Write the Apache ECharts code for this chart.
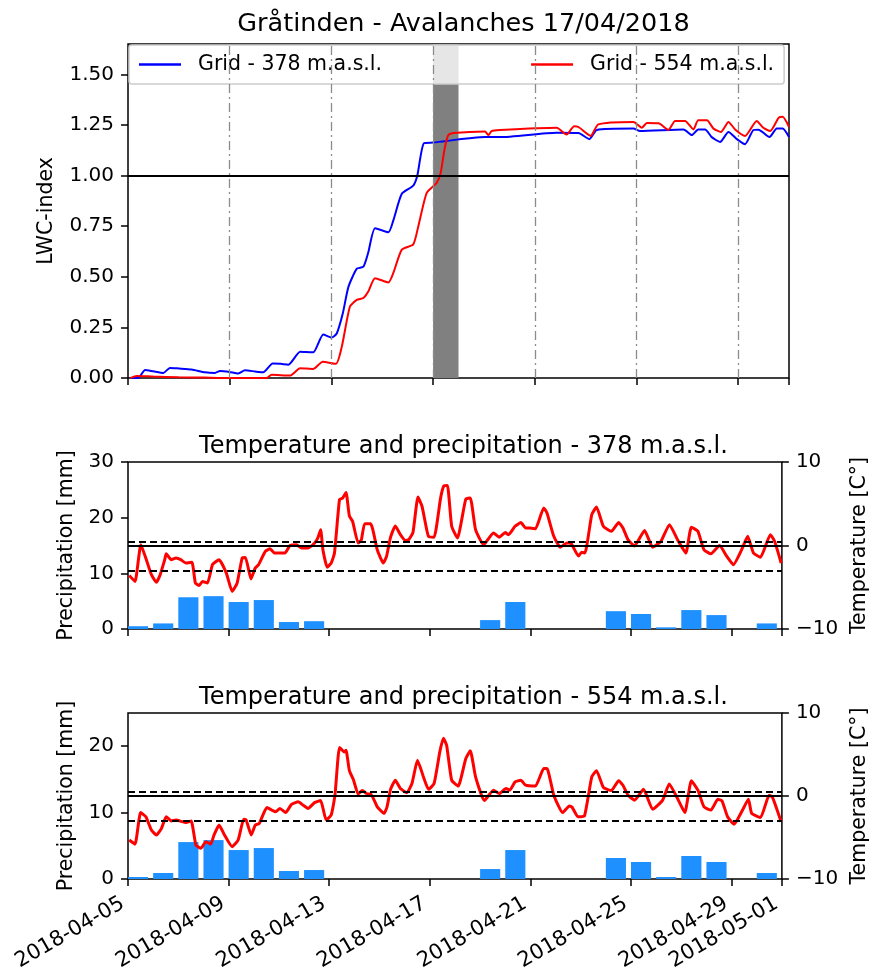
<!DOCTYPE html>
<html>
<head>
<meta charset="utf-8">
<script src="https://cdn.jsdelivr.net/npm/echarts@6/dist/echarts.min.js"></script>
<style>
  html, body { margin: 0; padding: 0; background: #fff; }
  #chart { width: 878px; height: 974px; }
</style>
</head>
<body>
<div id="chart"></div>
<script>
// x values are days after 2018-04-05 00:00
const tickDays = [0, 4, 8, 12, 16, 20, 24, 26];
const tickLabels = ['2018-04-05', '2018-04-09', '2018-04-13', '2018-04-17',
  '2018-04-21', '2018-04-25', '2018-04-29', '2018-05-01'];
const gridDays = [4, 8, 12, 16, 20, 24];
const avalancheDays = [12, 13];
const lwcTicks = [0, 0.25, 0.5, 0.75, 1, 1.25, 1.5];

const lwc378Days = [0.1, 0.4, 0.67, 1.0, 1.39, 1.65, 2.0, 2.5, 3.03, 3.42, 3.62, 4.0, 4.34, 4.6, 5.0,
  5.32, 5.69, 6.0, 6.31, 6.77, 7.0, 7.29, 7.68, 8.01, 8.21, 8.45, 8.67, 9.0, 9.26, 9.45, 9.72,
  10.24, 10.44, 10.77, 11.22, 11.38, 11.64, 12.01, 14.04, 14.63, 16.86, 17.72, 18.15, 18.44,
  19.88, 20.14, 21.85, 22.18, 22.43, 22.7, 22.96, 23.29, 23.62, 23.95, 24.27, 24.6, 24.8,
  25.23, 25.52, 25.75, 26.0];
const lwc378 = [0, 0, 0.04, 0.033, 0.025, 0.05, 0.047, 0.042, 0.028, 0.025, 0.035, 0.03, 0.022, 0.038, 0.032,
  0.028, 0.072, 0.07, 0.066, 0.13, 0.128, 0.127, 0.215, 0.2, 0.22, 0.32, 0.45, 0.54, 0.55, 0.62, 0.74,
  0.72, 0.78, 0.91, 0.95, 1.0, 1.16, 1.163, 1.19, 1.19, 1.212, 1.21, 1.18, 1.225,
  1.232, 1.22, 1.228, 1.2, 1.228, 1.228, 1.19, 1.166, 1.215, 1.18, 1.155, 1.225, 1.227,
  1.19, 1.232, 1.232, 1.19];

const lwc554Days = [0.1, 0.34, 1.0, 2.0, 3.0, 4.0, 5.46, 5.65, 6.37, 6.77, 7.29, 7.66, 8.18, 8.41, 8.73,
  9.0, 9.26, 9.45, 9.72, 10.24, 10.44, 10.77, 11.22, 11.42, 11.75, 12.14, 12.3, 12.45, 12.6, 12.8,
  14.04, 14.18, 14.3, 14.63, 16.86, 17.25, 17.55, 17.72, 18.2, 18.5, 19.88, 20.21, 20.41, 20.87,
  21.26, 21.52, 21.91, 22.24, 22.43, 22.77, 23.03, 23.32, 23.62, 23.88, 24.27, 24.73, 24.99,
  25.26, 25.59, 25.75, 26.0];
const lwc554 = [0, 0.01, 0.007, 0.004, 0.002, 0, 0, 0.016, 0.012, 0.048, 0.045, 0.08, 0.07, 0.155, 0.353,
  0.386, 0.395, 0.427, 0.493, 0.472, 0.52, 0.634, 0.66, 0.75, 0.915, 0.964, 1.014, 1.13, 1.2, 1.21,
  1.218, 1.2, 1.22, 1.225, 1.236, 1.203, 1.244, 1.24, 1.196, 1.253, 1.265, 1.236, 1.26, 1.258,
  1.226, 1.27, 1.27, 1.228, 1.273, 1.273, 1.232, 1.215, 1.265, 1.228, 1.196, 1.27, 1.236,
  1.22, 1.285, 1.29, 1.24];

// daily precipitation, 2018-04-05 .. 2018-04-30
const precipDays = [0, 1, 2, 3, 4, 5, 6, 7, 8, 9, 10, 11, 12, 13, 14, 15, 16, 17, 18, 19, 20, 21, 22, 23, 24, 25];
const precip378 = [0.5, 1.0, 5.7, 5.9, 4.85, 5.2, 1.25, 1.4, 0, 0, 0, 0, 0, 0, 1.6, 4.85, 0, 0, 0, 3.2, 2.7, 0.3, 3.4, 2.5, 0, 1.0];
const precip554 = [0.3, 0.9, 5.56, 5.86, 4.36, 4.66, 1.2, 1.35, 0, 0, 0, 0, 0, 0, 1.5, 4.36, 0, 0, 0, 3.16, 2.56, 0.3, 3.46, 2.56, 0, 0.9];

const temp378Days = [0.05, 0.28, 0.51, 0.73, 0.93, 1.13, 1.28, 1.46, 1.52, 1.72, 1.91, 2.1, 2.3, 2.54, 2.68,
  2.83, 2.96, 3.16, 3.36, 3.62, 3.91, 4.14, 4.34, 4.54, 4.67, 4.89, 5.06, 5.19, 5.46, 5.65, 5.82,
  6.24, 6.44, 6.7, 6.9, 7.16, 7.42, 7.55, 7.66, 7.75, 7.92, 8.08, 8.21, 8.41, 8.54, 8.67, 8.8,
  8.93, 9.15, 9.28, 9.41, 9.65, 9.91, 10.15, 10.28, 10.44, 10.63, 10.83, 11.03, 11.16, 11.33,
  11.53, 11.69, 11.85, 11.95, 12.17, 12.43, 12.56, 12.7, 12.87, 13.1, 13.43, 13.61, 13.82, 14.14,
  14.53, 14.76, 15.0, 15.13, 15.39, 15.62, 15.81, 16.0, 16.2, 16.53, 16.66, 16.93, 17.19, 17.45,
  17.62, 17.91, 18.04, 18.17, 18.44, 18.63, 18.9, 19.22, 19.51, 19.68, 19.88, 20.14, 20.54,
  20.86, 21.19, 21.53, 21.85, 22.18, 22.4, 22.66, 22.9, 23.18, 23.52, 23.81, 24.07, 24.4, 24.64,
  24.87, 25.15, 25.54, 25.71, 25.97];
const temp378 = [-3.6, -4.3, 0.1, -1.7, -3.5, -4.4, -3.5, -1.7, -1.0, -1.7, -1.5, -1.7, -2.1, -2.0, -4.5,
  -4.8, -4.3, -4.5, -2.3, -1.7, -3.3, -5.5, -4.5, -1.5, -1.45, -4.0, -2.7, -2.3, -0.7, -0.4, -0.9,
  -0.9, 0.0, 0.1, -0.3, -0.3, 0.3, 0.9, 1.9, -0.5, -2.6, -2.1, -0.9, 5.5, 5.7, 6.35, 3.55,
  2.9, 0.3, 0.7, 2.6, 2.6, -0.5, -2.1, -1.3, 1.0, 2.35, 1.3, 0.6, 0.7, 1.55,
  5.8, 4.7, 2.3, 1.1, 1.0, 5.7, 7.15, 7.2, 2.3, 0.9, 5.55, 5.7, 1.9, 0.1,
  1.5, 1.0, 1.55, 1.3, 2.3, 2.75, 2.1, 2.1, 2.0, 4.5, 3.9, 1.1, -0.2, 0.3,
  0.25, -1.25, -0.8, -0.9, 3.7, 4.6, 2.3, 1.7, 2.75, 2.1, 0.7, -0.05, 1.8,
  -0.2, 0.5, 2.5, 0.7, -0.9, 2.2, 1.7, -0.5, -1.0, 0.0, -1.3, -2.3, -0.5, 1.1,
  -0.9, -1.4, 1.3, 0.5, -2.1];

const temp554Days = [0.05, 0.28, 0.5, 0.71, 0.93, 1.13, 1.33, 1.52, 1.72, 1.91, 2.31, 2.51, 2.7, 2.9, 3.1,
  3.29, 3.42, 3.62, 3.82, 4.14, 4.38, 4.6, 4.7, 4.9, 5.06, 5.22, 5.52, 5.72, 5.87, 6.04, 6.27,
  6.5, 6.77, 6.96, 7.16, 7.42, 7.66, 7.88, 8.08, 8.23, 8.41, 8.6, 8.67, 8.8, 8.97, 9.15, 9.32,
  9.52, 9.65, 9.91, 10.18, 10.3, 10.44, 10.63, 10.83, 11.09, 11.29, 11.51, 11.77, 11.95, 12.17,
  12.4, 12.54, 12.67, 12.87, 13.13, 13.43, 13.61, 13.82, 14.17, 14.53, 14.76, 15.03, 15.18, 15.39,
  15.62, 15.81, 16.2, 16.53, 16.66, 16.93, 17.28, 17.55, 17.66, 17.89, 18.15, 18.44, 18.63, 18.9,
  19.22, 19.51, 19.68, 19.88, 20.14, 20.5, 20.86, 21.26, 21.52, 21.85, 22.14, 22.4, 22.66, 22.9,
  23.18, 23.45, 23.62, 23.84, 24.1, 24.4, 24.67, 24.8, 25.15, 25.49, 25.62, 25.97];
const temp554 = [-5.3, -5.8, -2.0, -2.5, -4.1, -4.7, -3.9, -2.5, -3.0, -2.9, -3.2, -3.0, -5.9, -6.3, -5.5,
  -5.8, -4.7, -3.5, -4.6, -6.1, -5.3, -2.8, -2.9, -4.7, -3.5, -3.3, -1.4, -1.7, -1.9, -1.5, -2.0,
  -1.0, -0.7, -1.1, -1.5, -0.8, -0.55, -2.9, -2.3, 0.1, 5.85, 5.3, 5.5, 3.1, 1.9, 0.25, 0.65,
  0.25, 0.25, -1.3, -2.1, -1.3, 0.8, 1.9, 0.9, 0.4, 1.5, 4.3, 2.1, 0.8, 1.5,
  5.35, 6.95, 6.1, 1.9, 1.2, 4.5, 5.45, 2.3, -0.55, 0.7, 0.3, 0.9, 0.7, 1.7,
  1.9, 1.3, 1.2, 3.3, 3.3, 0.1, -2.0, -1.2, -1.35, -2.5, -2.4, 2.3, 3.05, 1.05,
  0.65, 1.85, 1.3, 0.1, -0.5, 0.8, -1.6, -0.5, 1.45, -0.3, -2.0, 1.85, 0.7, -1.3,
  -1.7, -0.4, -0.6, -2.5, -3.4, -1.9, -0.4, -2.1, -2.6, 0.1, -0.1, -3.1];

const tempDashed = [0.5, -3];

const FONT = 'DejaVu Sans';
const pts = (xs, ys) => xs.map((x, i) => [x, ys[i]]);
const bars = (xs, ys) => xs.map((x, i) => [x + 0.4, ys[i]]);
const minus = (v) => (v < 0 ? '\u2212' + Math.abs(v) : String(v));

const grids = [
  { left: 128, width: 661, top: 44, height: 334 },
  { left: 128, width: 661, top: 462, height: 167 },
  { left: 128, width: 661, top: 713, height: 166 },
].map((g) => ({ ...g, show: true, borderColor: '#000', borderWidth: 1.5, backgroundColor: 'transparent' }));

const tick = { show: true, length: 7, inside: false, lineStyle: { color: '#000', width: 1.5 } };
const label = { color: '#000', fontFamily: FONT, fontSize: 20 };

const xAxes = [0, 1, 2].map((i) => ({
  type: 'value', gridIndex: i, min: 0, max: 26,
  axisLine: { show: false }, splitLine: { show: false },
  axisTick: { ...tick, customValues: tickDays },
  axisLabel: i === 2
    ? { ...label, fontSize: 21, customValues: tickDays, rotate: 30, margin: 20, padding: [0, 6, 0, 0],
        formatter: (v) => tickLabels[tickDays.indexOf(v)] }
    : { show: false, customValues: tickDays },
}));

const yName = (text, gap) => ({
  name: text, nameLocation: 'middle', nameGap: gap, nameRotate: 90,
  nameTextStyle: { color: '#000', fontFamily: FONT, fontSize: 20.5 },
});

const yAxes = [
  { type: 'value', gridIndex: 0, min: 0, max: 1.65, ...yName('LWC-index', 71),
    axisLine: { show: false }, splitLine: { show: false },
    axisTick: { ...tick, customValues: lwcTicks },
    axisLabel: { ...label, margin: 14, customValues: lwcTicks, formatter: (v) => v.toFixed(2) } },
  { type: 'value', gridIndex: 1, min: 0, max: 30, interval: 10, ...yName('Precipitation [mm]', 51),
    axisLine: { show: false }, splitLine: { show: false },
    axisTick: tick, axisLabel: { ...label, margin: 14 } },
  { type: 'value', gridIndex: 1, position: 'right', min: -10, max: 10, interval: 10, ...yName('Temperature [C°]', 53),
    axisLine: { show: false }, splitLine: { show: false },
    axisTick: tick, axisLabel: { ...label, margin: 14, formatter: minus } },
  { type: 'value', gridIndex: 2, min: 0, max: 25, ...yName('Precipitation [mm]', 51),
    axisLine: { show: false }, splitLine: { show: false },
    axisTick: { ...tick, customValues: [0, 10, 20] },
    axisLabel: { ...label, margin: 14, customValues: [0, 10, 20] } },
  { type: 'value', gridIndex: 2, position: 'right', min: -10, max: 10, interval: 10, ...yName('Temperature [C°]', 53),
    axisLine: { show: false }, splitLine: { show: false },
    axisTick: tick, axisLabel: { ...label, margin: 14, formatter: minus } },
];

const tempRefLines = [
  { yAxis: 0, lineStyle: { color: '#000', type: 'solid', width: 2 } },
  ...tempDashed.map((v) => ({ yAxis: v, lineStyle: { color: '#000', type: [7, 4], width: 2 } })),
];

const series = [
  { type: 'line', xAxisIndex: 0, yAxisIndex: 0, data: [], z: 1, silent: true,
    markArea: { silent: true, itemStyle: { color: '#808080' },
      data: [[{ xAxis: avalancheDays[0] }, { xAxis: avalancheDays[1] }]] },
    markLine: { silent: true, symbol: 'none', label: { show: false }, animation: false,
      data: [
        ...gridDays.map((d) => ({ xAxis: d, lineStyle: { color: '#8c8c8c', type: [9, 4, 2, 4], width: 1.3 } })),
        { yAxis: 1, lineStyle: { color: '#000', type: 'solid', width: 2 } },
      ] } },
  { name: 'Grid - 378 m.a.s.l.', type: 'line', xAxisIndex: 0, yAxisIndex: 0, z: 3, smooth: 0.2,
    symbol: 'none', lineStyle: { color: '#0000ff', width: 2 }, itemStyle: { color: '#0000ff' },
    data: pts(lwc378Days, lwc378) },
  { name: 'Grid - 554 m.a.s.l.', type: 'line', xAxisIndex: 0, yAxisIndex: 0, z: 3, smooth: 0.2,
    symbol: 'none', lineStyle: { color: '#ff0000', width: 2 }, itemStyle: { color: '#ff0000' },
    data: pts(lwc554Days, lwc554) },
  { type: 'bar', xAxisIndex: 1, yAxisIndex: 1, barWidth: '80%', itemStyle: { color: '#1e90ff' },
    data: bars(precipDays, precip378) },
  { type: 'line', xAxisIndex: 1, yAxisIndex: 2, data: [], z: 1,
    markLine: { silent: true, symbol: 'none', label: { show: false }, data: tempRefLines } },
  { type: 'line', xAxisIndex: 1, yAxisIndex: 2, z: 3, symbol: 'none', smooth: 0.15,
    lineStyle: { color: '#ff0000', width: 3 }, data: pts(temp378Days, temp378) },
  { type: 'bar', xAxisIndex: 2, yAxisIndex: 3, barWidth: '80%', itemStyle: { color: '#1e90ff' },
    data: bars(precipDays, precip554) },
  { type: 'line', xAxisIndex: 2, yAxisIndex: 4, data: [], z: 1,
    markLine: { silent: true, symbol: 'none', label: { show: false }, data: tempRefLines } },
  { type: 'line', xAxisIndex: 2, yAxisIndex: 4, z: 3, symbol: 'none', smooth: 0.15,
    lineStyle: { color: '#ff0000', width: 3 }, data: pts(temp554Days, temp554) },
];

const titleStyle = { color: '#000', fontFamily: FONT, fontSize: 24, fontWeight: 'normal' };

const chart = echarts.init(document.getElementById('chart'), null, { renderer: 'canvas' });
chart.setOption({
  animation: false,
  backgroundColor: '#fff',
  title: [
    { text: 'Gråtinden - Avalanches 17/04/2018', left: 458.5, top: 6, textAlign: 'center',
      textStyle: { ...titleStyle, fontSize: 25.5 } },
    { text: 'Temperature and precipitation - 378 m.a.s.l.', left: 458.5, top: 430, textAlign: 'center', textStyle: titleStyle },
    { text: 'Temperature and precipitation - 554 m.a.s.l.', left: 458.5, top: 681, textAlign: 'center', textStyle: titleStyle },
  ],
  legend: {
    data: ['Grid - 378 m.a.s.l.', 'Grid - 554 m.a.s.l.'],
    icon: 'rect',
    left: 129, top: 45, itemWidth: 42, itemHeight: 2.5, itemGap: 149,
    padding: [9, 10], backgroundColor: 'rgba(255,255,255,0.8)',
    borderColor: '#cccccc', borderWidth: 1.5, borderRadius: 3,
    textStyle: { color: '#000', fontFamily: FONT, fontSize: 20.5, padding: [0, 0, 0, 12] },
  },
  grid: grids,
  xAxis: xAxes,
  yAxis: yAxes,
  series,
});
</script>
</body>
</html>
